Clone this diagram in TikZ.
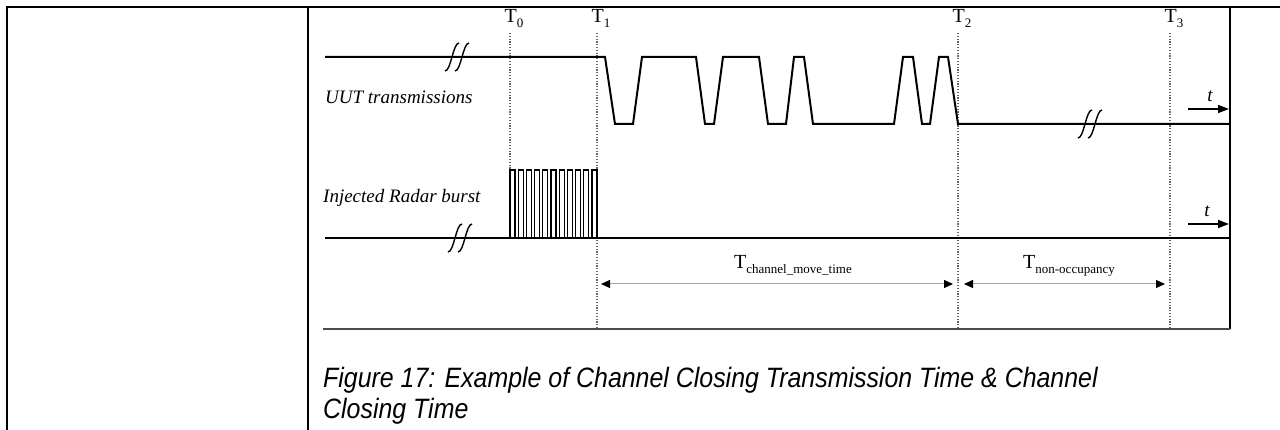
\documentclass[tikz,border=0pt]{standalone}
\usepackage{fontspec}
\setmainfont{Liberation Serif}
\newfontfamily\capfont[FakeStretch=0.89]{Liberation Sans}
\usetikzlibrary{arrows.meta,positioning,calc}
\newcommand{\tsub}[1]{T\raisebox{-0.45ex}{\fontsize{13}{15}\selectfont #1}}

\begin{document}
\begin{tikzpicture}[x=1pt, y=-1pt,
    wave/.style={line width=2pt, line join=miter},
    burst/.style={line width=1.3pt},
    rule/.style={line width=1.8pt},
    tline/.style={black!60, line width=1.3pt, dash pattern=on 1.3pt off 1.5pt},
    span/.style={{Triangle[length=9pt,width=8pt,color=black]}-{Triangle[length=9pt,width=8pt,color=black]},
      black!35, line width=1pt, shorten <=4pt, shorten >=5pt},
    tarr/.style={-{Triangle[length=11pt,width=8pt]}, line width=1.5pt},
    brk/.style={line width=1.4pt},
    lab/.style={font=\fontsize{19}{23}\selectfont\itshape, inner sep=0pt, anchor=west},
    tl/.style={font=\fontsize{20}{24}\selectfont, inner sep=0pt, anchor=base},
    capt/.style={font=\capfont\itshape\fontsize{28}{30}\selectfont, inner sep=0pt, anchor=base west}]
  \useasboundingbox (0,0) rectangle (1280,430);
  % --- Table cells and figure frame ---
  \draw[rule] (7,430) -- (7,7) -- (1280,7);
  \draw[rule] (308,7) -- (308,430);
  \draw[rule] (1230,7) -- (1230,329);
  \draw[black!70, line width=1.2pt] (323,329) -- (1230,329);
  % --- Time marks T0..T3 ---
  \foreach \n/\x/\y in {0/510/170, 1/597/329, 2/958/329, 3/1170/329} {
    \coordinate (t\n) at (\x,33);
    \coordinate (m\n) at (\x,284);
    \draw[tline] (t\n) -- (\x,\y);
    \node[tl] (tl\n) at (\x+4,23) {\tsub{\n}};
  }
  % --- UUT transmissions ---
  \node[lab] (uut) at (325,97) {UUT transmissions};
  \draw[wave] (325,57) -- (605,57) -- (615,124) -- (633,124) -- (642,57)
    -- (696,57) -- (705,124) -- (714,124) -- (723,57) -- (759,57) -- (768,124)
    -- (786,124) -- (794,57) -- (804,57) -- (813,124) -- (894,124) -- (903,57)
    -- (913,57) -- (922,124) -- (930,124) -- (939,57) -- (948,57) -- (958,124)
    -- (1230,124);
  % --- Injected radar burst ---
  \node[lab] (radar) at (323,198) {Injected Radar burst};
  \draw[wave] (325,238) -- (1230,238);
  \draw[burst] (510,238) \foreach \i in {0,...,10} {
    -- ({510+8.2*\i},238) -- ({510+8.2*\i},170) -- ({515+8.2*\i},170) -- ({515+8.2*\i},238)};
  % --- Breaks in the time axis ---
  \foreach \cx/\cy in {457/57, 1090/124, 460/238}
    \foreach \dx in {-5,5}
      \draw[brk] ({\cx+\dx-7},{\cy+14}) .. controls ({\cx+\dx-1},{\cy+14}) and ({\cx+\dx+1},{\cy-14}) .. ({\cx+\dx+7},{\cy-14});
  % --- Time arrows ---
  \coordinate (ua) at (1188,109); \coordinate (ub) at (1229,109);
  \coordinate (ra) at (1188,224); \coordinate (rb) at (1229,224);
  \draw[tarr] (ua) -- (ub);
  \draw[tarr] (ra) -- (rb);
  \node[tl, font=\fontsize{19}{23}\selectfont\itshape] (ut) at (1210,102) {t};
  \node[tl, font=\fontsize{19}{23}\selectfont\itshape] (rt) at (1207,217) {t};
  % --- Durations ---
  \draw[span] (m1) -- (m2);
  \draw[span, shorten <=6pt] (m2) -- (m3);
  \node[tl] (dmove) at (793,269) {\tsub{channel\_move\_time}};
  \node[tl] (docc) at (1069,269) {\tsub{non-occupancy}};
  % --- Caption ---
  \node[capt] (cap1) at (323,388) {Figure 17: Example of Channel Closing Transmission Time \& Channel};
  \node[capt] (cap2) at (323,418) {Closing Time};
\end{tikzpicture}
\end{document}
